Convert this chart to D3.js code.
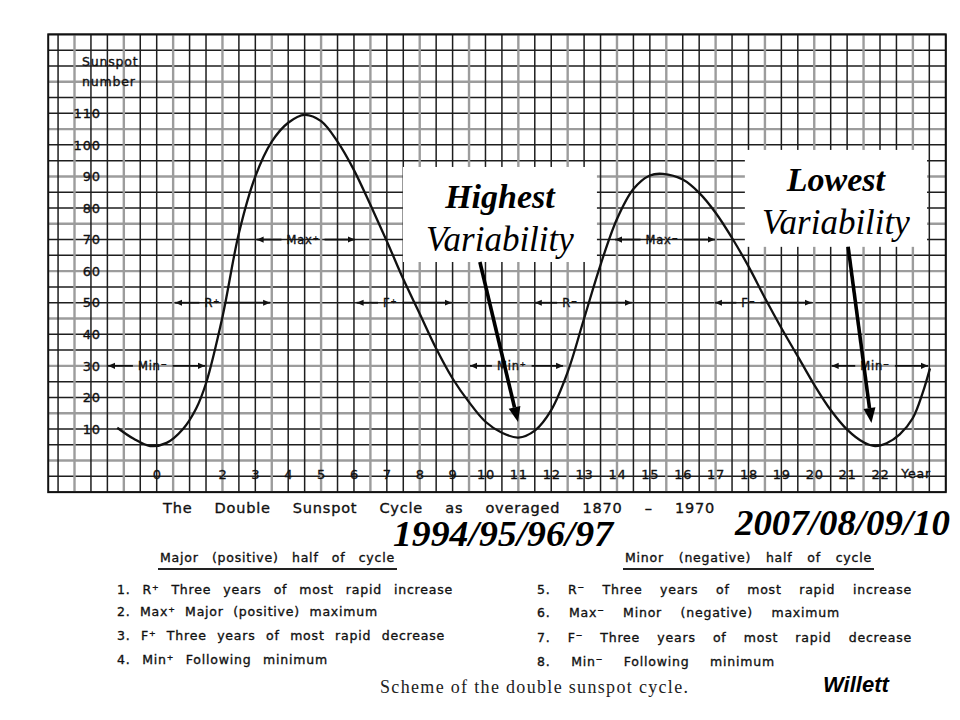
<!DOCTYPE html>
<html>
<head>
<meta charset="utf-8">
<script src="https://cdn.jsdelivr.net/npm/d3@7"></script>
<style>
body { margin: 0; background: #fff; }
svg { display: block; background: #fff; }
.lettering { font-family: "DejaVu Sans", sans-serif; fill: #111; stroke: #111; stroke-width: 0.35px; letter-spacing: 0.8px; white-space: pre; }
</style>
</head>
<body>
<svg id="chart" width="960" height="720"></svg>
<script>
// averaged double sunspot cycle (year of cycle, sunspot number)
const cycleYears = [-1.2, -0.7, -0.2, 0.3, 0.8, 1.2, 1.5, 2.0, 2.5, 3.0, 3.5, 4.0, 4.5, 5.0, 5.5, 6.0, 6.5, 7.0,
    7.5, 8.0, 8.5, 9.0, 9.5, 10.0, 10.5, 11.0, 11.5, 12.0, 12.5, 13.0, 13.5, 14.0, 14.5, 15.0, 15.4, 16.0, 16.5,
    17.0, 17.5, 18.0, 18.5, 19.0, 19.5, 20.0, 20.5, 21.0, 21.5, 21.85, 22.2, 22.6, 23.0, 23.3, 23.52];
const cycleSunspots = [10.4, 6.9, 4.6, 5.6, 10, 16.5, 24.5, 45.5, 72, 90, 101, 107, 109.5, 107.5, 101, 92, 81, 69.5,
    57.5, 46.5, 35.5, 26, 18.5, 12.3, 8.8, 7.3, 9.5, 16, 28, 45, 62, 76.5, 86, 90.3, 90.8, 89, 84.8,
    78.5, 70.5, 61.5, 51.5, 42, 33, 24, 16, 9.8, 5.8, 4.6, 5.5, 8.3, 13.5, 21.5, 29.2];

const xTickYears = [0, 2, 3, 4, 5, 6, 7, 8, 9, 10, 11, 12, 13, 14, 15, 16, 17, 18, 19, 20, 21, 22];
const yTickValues = [10, 20, 30, 40, 50, 60, 70, 80, 90, 100, 110];

// phase bands drawn as <- label -> at a sunspot level
const phaseLabels = ["Min⁻", "R⁺", "Max⁺", "F⁺", "Min⁺", "R⁻", "Max⁻", "F⁻", "Min⁻"];
const phaseStart = [-1.48, 0.56, 3.04, 6.08, 9.53, 11.5, 13.94, 16.98, 20.53];
const phaseEnd = [1.47, 3.45, 6.03, 8.97, 12.36, 14.45, 16.98, 19.92, 23.46];
const phaseLabelAt = [-0.12, 1.69, 4.45, 7.1, 10.8, 12.57, 15.37, 18.0, 21.85];
const phaseLevel = [30, 50, 70, 50, 30, 50, 70, 50, 30];

// the two pasted-on notes
const noteTitles = ["Highest", "Lowest"];
const noteSubtitles = ["Variability", "Variability"];
const noteBoxYears = [[7.49, 13.39], [17.89, 23.43]];
const noteBoxValues = [[93.0, 62.9], [98.4, 67.7]];
const noteArrowFrom = [[9.83, 62.9], [21.03, 67.7]];
const noteArrowTo = [[10.99, 12.2], [21.74, 11.9]];
const noteYears = ["1994/95/96/97", "2007/08/09/10"];

const caption = "The Double Sunspot Cycle as overaged 1870 – 1970";
const majorHeading = "Major (positive) half of cycle";
const minorHeading = "Minor (negative) half of cycle";
const majorItems = ["1. R⁺ Three years of most rapid increase", "2. Max⁺ Major (positive) maximum",
    "3. F⁺ Three years of most rapid decrease", "4. Min⁺ Following minimum"];
const minorItems = ["5. R⁻ Three years of most rapid increase", "6. Max⁻ Minor (negative) maximum",
    "7. F⁻ Three years of most rapid decrease", "8. Min⁻ Following minimum"];
const figureTitle = "Scheme of the double sunspot cycle.";
const credit = "Willett";

const svg = d3.select("#chart");

//scales
const x = d3.scaleLinear().domain([0, 22]).range([156.7, 880]);
const y = d3.scaleLinear().domain([10, 110]).range([429, 113.3]);

// stretch word gaps so a line fills the width it has in the scan
function fitWords(sel, width) {
    let natural = sel.node().getComputedTextLength();
    let gaps = (sel.text().match(/ /g) || []).length;
    if (gaps > 0 && natural < width) {
        sel.style("word-spacing", ((width - natural) / gaps) + "px");
    }
}

//grid paper
const gridLeft = x(-3.3), gridRight = x(24), gridTop = y(135), gridBottom = y(-10);
const grid = svg.append("g");
grid.selectAll(".hline").data(d3.range(-10, 135.01, 5)).join("line")
    .attr("class", "hline")
    .attr("x1", gridLeft).attr("x2", gridRight)
    .attr("y1", d => y(d)).attr("y2", d => y(d))
    .attr("stroke", (d, i) => i % 3 === 2 ? "#9c9c9c" : "#1e1e1e")
    .attr("stroke-width", (d, i) => i % 3 === 2 ? 2.4 : 1.5);
grid.selectAll(".vline").data(d3.range(-3, 24.01, 0.5)).join("line")
    .attr("class", "vline")
    .attr("x1", d => x(d)).attr("x2", d => x(d))
    .attr("y1", gridTop).attr("y2", gridBottom)
    .attr("stroke", (d, i) => i % 3 === 1 ? "#9c9c9c" : "#1e1e1e")
    .attr("stroke-width", (d, i) => i % 3 === 1 ? 2.4 : 1.5);
grid.append("rect")
    .attr("x", gridLeft).attr("y", gridTop)
    .attr("width", gridRight - gridLeft).attr("height", gridBottom - gridTop)
    .attr("fill", "none").attr("stroke", "#111").attr("stroke-width", 2);

//axes
svg.append("g")
    .attr("transform", "translate(0," + y(0) + ")")
    .call(d3.axisBottom(x).tickValues(xTickYears).tickSize(0).tickPadding(9).tickFormat(d3.format("d")))
    .call(g => g.select(".domain").remove())
    .attr("font-family", null).attr("font-size", 13)
    .selectAll("text").attr("class", "lettering");
svg.append("text")
    .attr("class", "lettering")
    .attr("x", x(23.1)).attr("y", y(0) + 9).attr("dy", "0.71em")
    .attr("text-anchor", "middle").attr("font-size", 12.5)
    .text("Year");

svg.append("g")
    .attr("transform", "translate(" + x(-1.7) + ",0)")
    .call(d3.axisLeft(y).tickValues(yTickValues).tickSize(0).tickPadding(0))
    .call(g => g.select(".domain").remove())
    .attr("font-family", null).attr("font-size", 13)
    .selectAll("text").attr("class", "lettering");
svg.append("text").attr("class", "lettering")
    .attr("x", 82).attr("y", 66).attr("font-size", 12.5).text("Sunspot");
svg.append("text").attr("class", "lettering")
    .attr("x", 82).attr("y", 86).attr("font-size", 12.5).text("number");

//the cycle curve
const line = d3.line()
    .x(d => x(d[0]))
    .y(d => y(d[1]))
    .curve(d3.curveCatmullRom.alpha(0.5));
svg.append("path")
    .datum(d3.zip(cycleYears, cycleSunspots))
    .attr("d", line)
    .attr("fill", "none")
    .attr("stroke", "#111")
    .attr("stroke-width", 2.3);

//phase bands
svg.append("defs").append("marker")
    .attr("id", "tip")
    .attr("viewBox", "0 -4 8 8")
    .attr("refX", 8).attr("refY", 0)
    .attr("markerWidth", 7).attr("markerHeight", 7)
    .attr("markerUnits", "userSpaceOnUse")
    .attr("orient", "auto-start-reverse")
    .append("path").attr("d", "M0,-3.5L8,0L0,3.5Z").attr("fill", "#111");

phaseLabels.forEach((label, i) => {
    let g = svg.append("g");
    let cx = x(phaseLabelAt[i]), cy = y(phaseLevel[i]);
    let t = g.append("text")
        .attr("class", "lettering")
        .attr("x", cx).attr("y", cy).attr("dy", "0.36em")
        .attr("text-anchor", "middle").attr("font-size", 11.5)
        .text(label);
    let half = t.node().getComputedTextLength() / 2 + 5;
    g.append("line")
        .attr("x1", cx - half).attr("x2", x(phaseStart[i]))
        .attr("y1", cy).attr("y2", cy)
        .attr("stroke", "#111").attr("stroke-width", 1.8)
        .attr("marker-end", "url(#tip)");
    g.append("line")
        .attr("x1", cx + half).attr("x2", x(phaseEnd[i]))
        .attr("y1", cy).attr("y2", cy)
        .attr("stroke", "#111").attr("stroke-width", 1.8)
        .attr("marker-end", "url(#tip)");
});

//notes with arrows
noteTitles.forEach((title, i) => {
    let x0 = x(noteBoxYears[i][0]), x1 = x(noteBoxYears[i][1]);
    let y0 = y(noteBoxValues[i][0]), y1 = y(noteBoxValues[i][1]);
    svg.append("rect")
        .attr("x", x0).attr("y", y0)
        .attr("width", x1 - x0).attr("height", y1 - y0)
        .attr("fill", "#fff");
    svg.append("text")
        .attr("x", (x0 + x1) / 2).attr("y", y0 + 41)
        .attr("text-anchor", "middle")
        .attr("font-family", "'Liberation Serif', 'Times New Roman', serif")
        .attr("font-style", "italic").attr("font-weight", "bold")
        .attr("font-size", 34).attr("fill", "#000")
        .text(title);
    svg.append("text")
        .attr("x", (x0 + x1) / 2).attr("y", y0 + 84)
        .attr("text-anchor", "middle")
        .attr("font-family", "'Liberation Serif', 'Times New Roman', serif")
        .attr("font-style", "italic")
        .attr("font-size", 35).attr("fill", "#000")
        .text(noteSubtitles[i]);

    let ax = x(noteArrowFrom[i][0]), ay = y(noteArrowFrom[i][1]);
    let bx = x(noteArrowTo[i][0]), by = y(noteArrowTo[i][1]);
    let ang = Math.atan2(by - ay, bx - ax);
    let headLen = 15, headW = 6;
    let hx = bx - headLen * Math.cos(ang), hy = by - headLen * Math.sin(ang);
    svg.append("line")
        .attr("x1", ax).attr("y1", ay).attr("x2", hx).attr("y2", hy)
        .attr("stroke", "#000").attr("stroke-width", 3.6);
    svg.append("path")
        .attr("d", "M" + bx + "," + by +
            "L" + (hx + headW * Math.sin(ang)) + "," + (hy - headW * Math.cos(ang)) +
            "L" + (hx - headW * Math.sin(ang)) + "," + (hy + headW * Math.cos(ang)) + "Z")
        .attr("fill", "#000");
});

//caption under the grid
let cap = svg.append("text").attr("class", "lettering")
    .attr("x", 163).attr("y", 513).attr("font-size", 14.5)
    .text(caption);
fitWords(cap, 552);

svg.append("text")
    .attr("x", 393).attr("y", 546)
    .attr("font-family", "'Liberation Serif', 'Times New Roman', serif")
    .attr("font-style", "italic").attr("font-weight", "bold")
    .attr("font-size", 36).attr("fill", "#000")
    .attr("textLength", 220).attr("lengthAdjust", "spacingAndGlyphs")
    .text(noteYears[0]);
svg.append("text")
    .attr("x", 735).attr("y", 535)
    .attr("font-family", "'Liberation Serif', 'Times New Roman', serif")
    .attr("font-style", "italic").attr("font-weight", "bold")
    .attr("font-size", 36).attr("fill", "#000")
    .attr("textLength", 215).attr("lengthAdjust", "spacingAndGlyphs")
    .text(noteYears[1]);

//legend of the two halves
function legendBlock(heading, items, hx, hWidth, ix, widths, baselines) {
    let h = svg.append("text").attr("class", "lettering")
        .attr("x", hx).attr("y", 562).attr("font-size", 12.5)
        .text(heading);
    fitWords(h, hWidth);
    svg.append("line")
        .attr("x1", hx - 2).attr("x2", hx + hWidth + 2)
        .attr("y1", 569).attr("y2", 569)
        .attr("stroke", "#222").attr("stroke-width", 2);
    items.forEach((item, i) => {
        let t = svg.append("text").attr("class", "lettering")
            .attr("x", ix).attr("y", baselines[i]).attr("font-size", 12.5)
            .text(item);
        fitWords(t, widths[i]);
    });
}
legendBlock(majorHeading, majorItems, 160, 235, 117, [336, 261, 328, 211], [594, 616, 640, 664]);
legendBlock(minorHeading, minorItems, 625, 247, 537, [375, 303, 375, 238], [594, 617, 642, 666]);

svg.append("text")
    .attr("x", 380).attr("y", 693)
    .attr("font-family", "'Liberation Serif', 'Times New Roman', serif")
    .attr("font-size", 18).attr("fill", "#222")
    .attr("textLength", 308).attr("lengthAdjust", "spacing")
    .text(figureTitle);
svg.append("text")
    .attr("x", 823).attr("y", 692)
    .attr("font-family", "'Liberation Sans', Arial, sans-serif")
    .attr("font-style", "italic").attr("font-weight", "bold")
    .attr("font-size", 22).attr("fill", "#000")
    .text(credit);
</script>
</body>
</html>
